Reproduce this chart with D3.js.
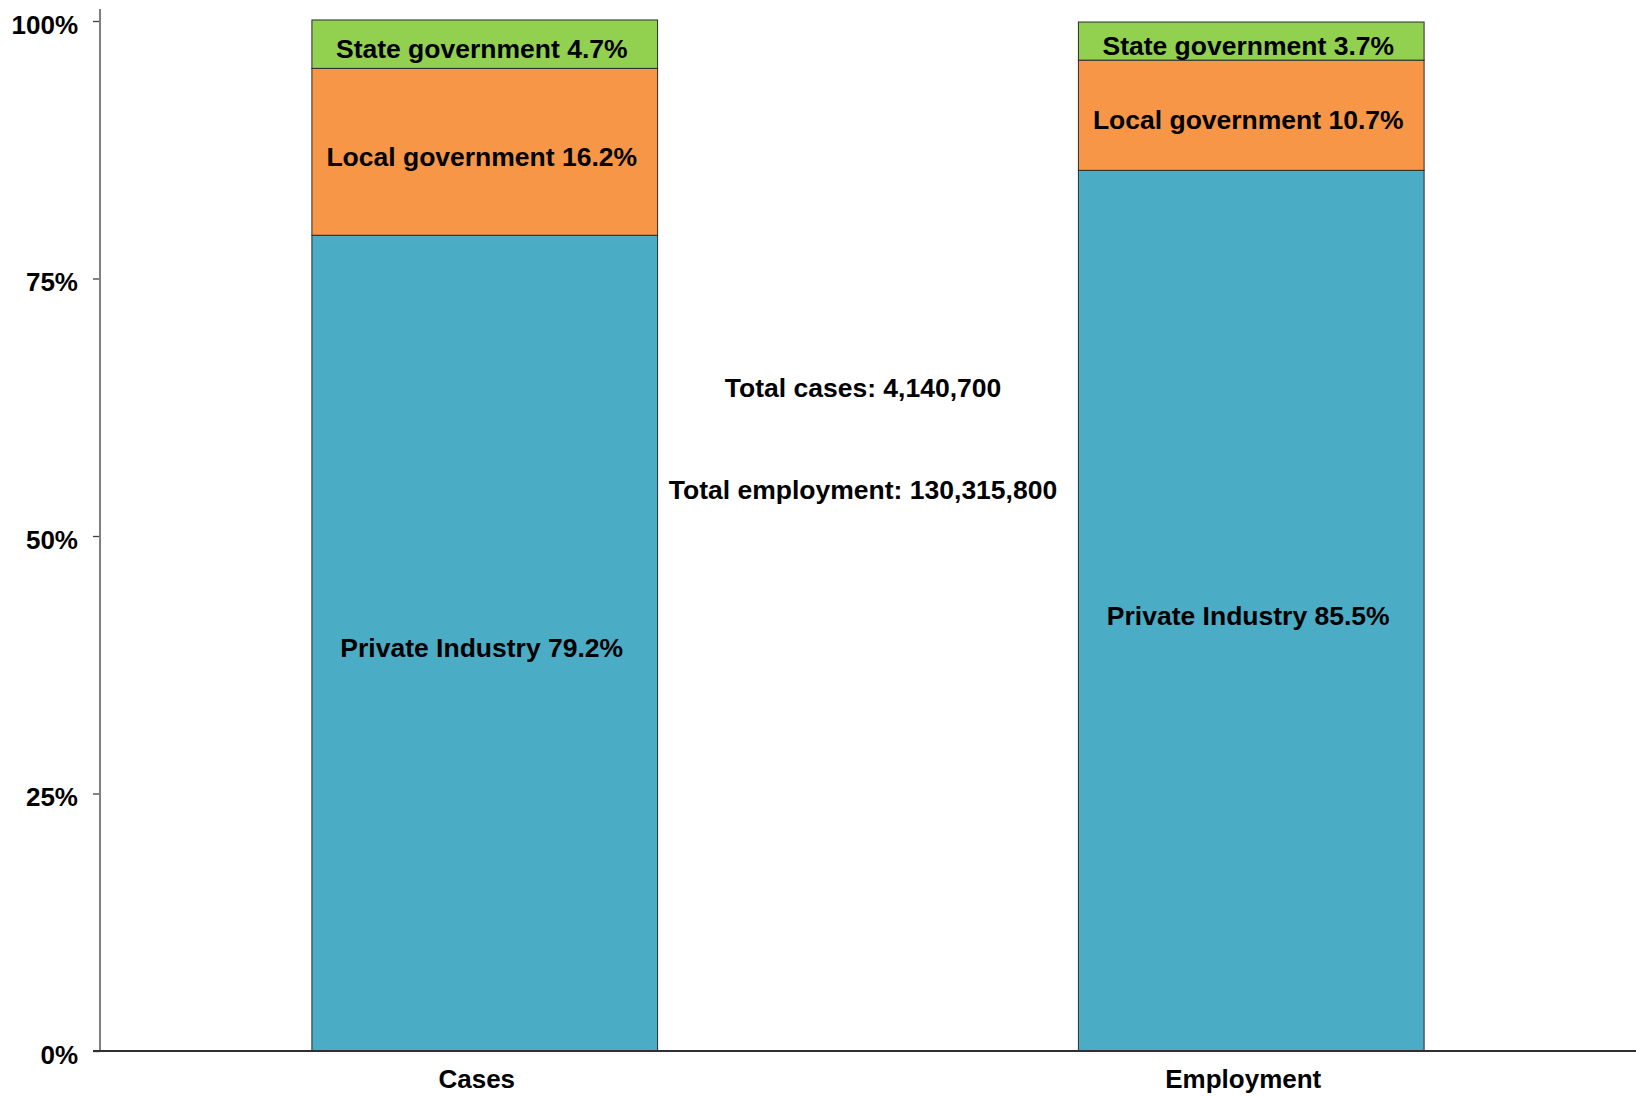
<!DOCTYPE html>
<html>
<head>
<meta charset="utf-8">
<script src="https://cdn.jsdelivr.net/npm/d3@7/dist/d3.min.js"></script>
<style>
  html, body { margin: 0; padding: 0; background: #fff; }
  svg { display: block; }
  text { font-family: "Liberation Sans", Arial, sans-serif; font-weight: bold; fill: #000; }
</style>
</head>
<body>
<svg id="chart" width="1636" height="1096"></svg>
<script>
// Share of injury and illness cases vs. share of employment, by ownership
const categories = ["Cases", "Employment"];
const sectors = ["Private Industry", "Local government", "State government"];
const privateIndustry = [79.2, 85.5];
const localGovernment = [16.2, 10.7];
const stateGovernment = [4.7, 3.7];
const sectorColors = ["#4BACC6", "#F79646", "#92D050"];
const yTicks = [0, 25, 50, 75, 100];
const totalsText = ["Total cases: 4,140,700", "Total employment: 130,315,800"];

const rows = categories.map((c, i) => ({
  category: c,
  "Private Industry": privateIndustry[i],
  "Local government": localGovernment[i],
  "State government": stateGovernment[i]
}));

const svg = d3.select("#chart");
const plotLeft = 100, plotBottom = 1051, plotTop = 21;

const x = d3.scaleBand()
  .domain(categories)
  .range([plotLeft + 1.5, 1634.5])
  .paddingInner(0.549)
  .paddingOuter(0.2745);

const y = d3.scaleLinear().domain([0, 100]).range([plotBottom, plotTop]);
const color = d3.scaleOrdinal().domain(sectors).range(sectorColors);

const series = d3.stack().keys(sectors)(rows);

// stacked segments
const layers = svg.append("g").selectAll("g")
  .data(series)
  .join("g")
  .attr("fill", d => color(d.key));

layers.selectAll("rect")
  .data(d => d.map(v => ({ key: d.key, v })))
  .join("rect")
  .attr("x", d => x(d.v.data.category))
  .attr("width", x.bandwidth())
  .attr("y", d => y(d.v[1]))
  .attr("height", d => y(d.v[0]) - y(d.v[1]))
  .attr("stroke", "#2b2b2b")
  .attr("stroke-width", 1);

// segment labels
layers.selectAll("text")
  .data(d => d.map(v => ({ key: d.key, v })))
  .join("text")
  .attr("x", d => x(d.v.data.category) + x.bandwidth() / 2 - 3)
  .attr("y", d => (y(d.v[0]) + y(d.v[1])) / 2 + 5)
  .attr("text-anchor", "middle")
  .attr("dominant-baseline", "central")
  .attr("font-size", 26.5)
  .attr("fill", "#000")
  .text(d => `${d.key} ${d.v.data[d.key]}%`);

// y axis
const yAxis = svg.append("g")
  .attr("transform", `translate(${plotLeft},0)`)
  .call(d3.axisLeft(y).tickValues(yTicks).tickSize(7).tickPadding(15)
    .tickFormat(d => d + "%"));
yAxis.select(".domain").remove();
yAxis.selectAll(".tick line").attr("stroke", "#404040").attr("stroke-width", 1.3);
yAxis.selectAll(".tick text")
  .attr("font-size", 26)
  .attr("font-family", "'Liberation Sans', Arial, sans-serif")
  .attr("font-weight", "bold")
  .attr("fill", "#000")
  .attr("dy", "0.47em");

svg.append("line")
  .attr("x1", plotLeft).attr("x2", plotLeft)
  .attr("y1", 9).attr("y2", plotBottom)
  .attr("stroke", "#808080").attr("stroke-width", 2);

// x axis
const xAxis = svg.append("g")
  .attr("transform", `translate(0,${plotBottom})`)
  .call(d3.axisBottom(x).tickSize(0).tickPadding(19));
xAxis.select(".domain").remove();
xAxis.selectAll(".tick text")
  .attr("font-size", 26)
  .attr("font-family", "'Liberation Sans', Arial, sans-serif")
  .attr("font-weight", "bold")
  .attr("fill", "#000")
  .attr("dx", -8);

svg.append("line")
  .attr("x1", plotLeft - 7).attr("x2", 1636)
  .attr("y1", plotBottom).attr("y2", plotBottom)
  .attr("stroke", "#303030").attr("stroke-width", 2);

// totals annotation between the bars
const midX = (x(categories[0]) + x.bandwidth() + x(categories[1])) / 2 - 5;
svg.append("g").selectAll("text")
  .data(totalsText)
  .join("text")
  .attr("x", midX)
  .attr("y", (d, i) => [388, 490][i])
  .attr("text-anchor", "middle")
  .attr("dominant-baseline", "central")
  .attr("font-size", 26.5)
  .attr("fill", "#000")
  .text(d => d);
</script>
</body>
</html>
